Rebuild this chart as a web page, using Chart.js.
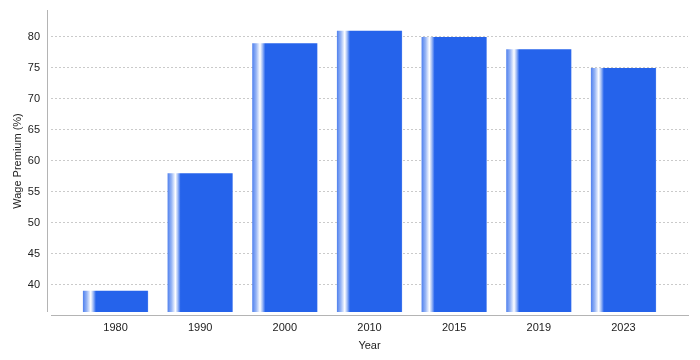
<!DOCTYPE html>
<html>
<head>
<meta charset="utf-8">
<script src="https://cdn.jsdelivr.net/npm/chart.js@4/dist/chart.umd.min.js"></script>
<style>
html,body{margin:0;padding:0;background:#fff;}
#wrap{width:700px;height:360px;position:relative;}
</style>
</head>
<body>
<div id="wrap"><canvas id="c" width="700" height="360"></canvas></div>
<script>
const categories = ['1980', '1990', '2000', '2010', '2015', '2019', '2023'];
const wagePremium = [39, 58, 79, 81, 80, 78, 75];
const yTicks = [40, 45, 50, 55, 60, 65, 70, 75, 80];
const yTitle = 'Wage Premium (%)';
const xTitle = 'Year';

const BASE = '#2563eb';
const FONT = '"Liberation Sans", Arial, sans-serif';
const BAR_PCT = 0.77;

function barGradient(ctx) {
  const chart = ctx.chart;
  const xs = chart.scales && chart.scales.x;
  if (!xs || ctx.dataIndex === undefined) return BASE;
  const cx = xs.getPixelForValue(ctx.dataIndex);
  const unit = xs.getPixelForValue(1) - xs.getPixelForValue(0);
  const w = unit * BAR_PCT;
  if (!isFinite(cx) || !isFinite(w)) return BASE;
  const g = chart.ctx.createLinearGradient(cx - w / 2, 0, cx + w / 2, 0);
  g.addColorStop(0, '#4f80ee');
  g.addColorStop(0.06, '#97b5f5');
  g.addColorStop(0.12, '#ffffff');
  g.addColorStop(0.16, '#9ab7f5');
  g.addColorStop(0.2, BASE);
  g.addColorStop(0.985, BASE);
  g.addColorStop(1, '#5585f0');
  return g;
}

const axisLines = {
  id: 'axisLines',
  afterDraw(chart) {
    const a = chart.chartArea;
    const c = chart.ctx;
    c.save();
    c.strokeStyle = '#b4b4b4';
    c.lineWidth = 1;
    c.beginPath();
    c.moveTo(a.left - 3.5, a.top);
    c.lineTo(a.left - 3.5, a.bottom);
    c.moveTo(a.left, a.bottom + 3.5);
    c.lineTo(a.right + 1, a.bottom + 3.5);
    c.stroke();
    c.restore();
  }
};

new Chart(document.getElementById('c'), {
  type: 'bar',
  data: {
    datasets: [{
      data: wagePremium.map((v, i) => ({ x: i, y: v })),
      backgroundColor: barGradient,
      borderWidth: 0,
      barPercentage: BAR_PCT,
      categoryPercentage: 1
    }]
  },
  plugins: [axisLines],
  options: {
    responsive: false,
    animation: false,
    events: [],
    layout: { padding: { top: 10, right: 12, left: 0, bottom: 0 } },
    plugins: { legend: { display: false }, tooltip: { enabled: false }, title: { display: false } },
    scales: {
      x: {
        type: 'linear',
        offset: false,
        min: -0.762,
        max: 6.762,
        afterFit(s) { s.height = 48; s.paddingLeft = 0; s.paddingRight = 0; },
        afterBuildTicks(s) { s.ticks = categories.map((c, i) => ({ value: i })); },
        grid: { display: false, drawTicks: false },
        border: { display: false },
        ticks: {
          autoSkip: false,
          maxRotation: 0,
          padding: 9,
          color: '#222',
          font: { family: FONT, size: 11 },
          callback: (v) => categories[v] !== undefined ? categories[v] : ''
        },
        title: {
          display: true,
          text: xTitle,
          color: '#222',
          font: { family: FONT, size: 11 },
          padding: { top: 0, bottom: 7 }
        }
      },
      y: {
        min: 35.56,
        max: 84.36,
        afterFit(s) { s.width = 51; s.paddingTop = 0; s.paddingBottom = 0; },
        afterBuildTicks(s) { s.ticks = yTicks.map(v => ({ value: v })); },
        grid: {
          color: '#cacaca',
          lineWidth: 1,
          drawTicks: false
        },
        border: { display: false, dash: [2, 2] },
        ticks: {
          padding: 11,
          color: '#222',
          font: { family: FONT, size: 11 },
          callback: (v) => String(v)
        },
        title: {
          display: true,
          text: yTitle,
          color: '#222',
          font: { family: FONT, size: 11 },
          padding: { top: 11, bottom: 0 }
        }
      }
    }
  }
});
</script>
</body>
</html>
